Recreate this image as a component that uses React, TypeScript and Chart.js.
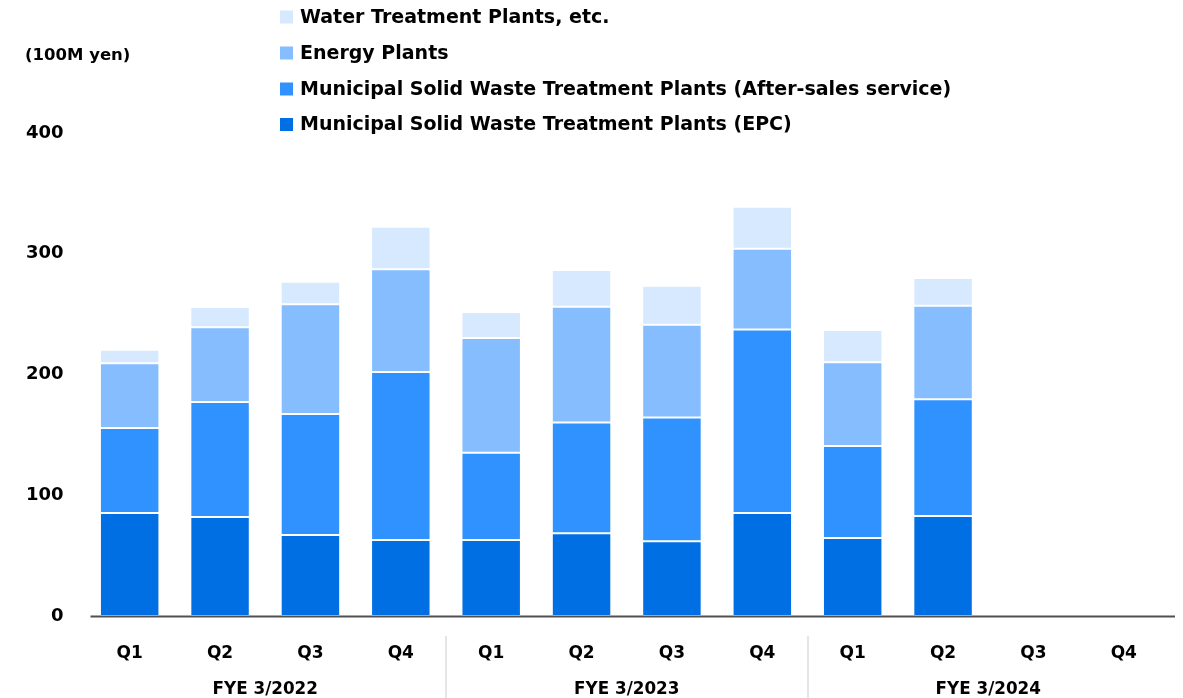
import React, { useEffect, useRef } from "react";
import { Chart, registerables } from "chart.js";

Chart.register(...registerables);

const quarterLabels = ["Q1", "Q2", "Q3", "Q4", "Q1", "Q2", "Q3", "Q4", "Q1", "Q2", "Q3", "Q4"];
const fiscalYears = ["FYE 3/2022", "FYE 3/2023", "FYE 3/2024"];
const yTicks = [0, 100, 200, 300, 400];
const unitLabel = "(100M yen)";

const seriesNames = [
  "Municipal Solid Waste Treatment Plants (EPC)",
  "Municipal Solid Waste Treatment Plants (After-sales service)",
  "Energy Plants",
  "Water Treatment Plants, etc.",
];
const seriesColors = ["#006FE3", "#3092FF", "#85BDFF", "#D6E9FF"];

const epcValues = [85.3, 82.0, 67.0, 63.0, 63.0, 68.5, 62.0, 85.4, 64.6, 82.8, null, null];
const afterSalesValues = [70.4, 95.2, 100.3, 139.0, 72.3, 91.8, 102.3, 151.9, 76.2, 96.6, null, null];
const energyValues = [53.6, 61.9, 90.8, 85.1, 94.9, 95.8, 76.9, 66.9, 69.3, 77.6, null, null];
const waterValues = [11.2, 16.8, 18.8, 35.3, 21.6, 30.4, 32.3, 34.8, 26.8, 22.9, null, null];

const FONT = "'DejaVu Sans', 'Noto Sans', sans-serif";

const decorPlugin = {
  id: "decor",
  afterDatasetsDraw(chart: any) {
    const { ctx, chartArea, scales } = chart;
    const x = scales.x;
    ctx.save();
    // baseline
    ctx.strokeStyle = "#505050";
    ctx.lineWidth = 2;
    ctx.beginPath();
    ctx.moveTo(chartArea.left + 6, chartArea.bottom + 0.5);
    ctx.lineTo(chartArea.right + 6, chartArea.bottom + 0.5);
    ctx.stroke();
    // separators between fiscal years
    ctx.strokeStyle = "#E3E5E8";
    ctx.lineWidth = 2;
    [4, 8].forEach((i) => {
      const xp = Math.round((x.getPixelForValue(i - 1) + x.getPixelForValue(i)) / 2);
      ctx.beginPath();
      ctx.moveTo(xp, 636);
      ctx.lineTo(xp, 698);
      ctx.stroke();
    });
    // fiscal year labels
    ctx.fillStyle = "#000";
    ctx.font = `bold 16.8px ${FONT}`;
    ctx.textAlign = "center";
    ctx.textBaseline = "middle";
    fiscalYears.forEach((fy, g) => {
      const cx = (x.getPixelForValue(g * 4 + 1) + x.getPixelForValue(g * 4 + 2)) / 2;
      ctx.fillText(fy, cx, 690);
    });
    // unit label
    ctx.textAlign = "left";
    ctx.font = `bold 16.5px ${FONT}`;
    ctx.fillText(unitLabel, 25, 56);
    // legend (reverse order)
    const rows = [3, 2, 1, 0];
    const rowY = [17, 53, 89, 124.5];
    ctx.font = `bold 19px ${FONT}`;
    rows.forEach((si, r) => {
      const cy = rowY[r];
      ctx.fillStyle = seriesColors[si];
      ctx.fillRect(280, cy - 6.5, 13, 13);
      ctx.fillStyle = "#000";
      ctx.fillText(seriesNames[si], 300, cy + 1);
    });
    ctx.restore();
  },
};

export default function App() {
  const canvasRef = useRef<HTMLCanvasElement | null>(null);

  useEffect(() => {
    document.body.style.margin = "0";
    const canvas = canvasRef.current;
    if (!canvas) return;
    const values = [epcValues, afterSalesValues, energyValues, waterValues];
    const chart = new Chart(canvas, {
      type: "bar",
      data: {
        labels: quarterLabels,
        datasets: values.map((v, i) => ({
          label: seriesNames[i],
          data: v,
          backgroundColor: seriesColors[i],
          borderColor: "rgba(255,255,255,0.85)",
          borderWidth: 1,
          borderSkipped: false,
          categoryPercentage: 1,
          barPercentage: 0.658,
        })),
      },
      options: {
        animation: false,
        responsive: false,
        maintainAspectRatio: false,
        layout: { padding: { top: 133, left: 0, right: 14, bottom: 0 } },
        plugins: {
          legend: { display: false },
          tooltip: { enabled: false },
          title: { display: false },
        },
        scales: {
          x: {
            stacked: true,
            grid: { display: false, drawTicks: false },
            border: { display: false },
            ticks: {
              color: "#000",
              font: { family: FONT, size: 17, weight: "bold" },
              padding: 27,
              maxRotation: 0,
              autoSkip: false,
            },
            afterFit(axis: any) {
              axis.height = 82;
            },
          },
          y: {
            stacked: true,
            min: 0,
            max: 400,
            afterBuildTicks(axis: any) {
              axis.ticks = yTicks.map((v) => ({ value: v }));
            },
            grid: { display: false, drawTicks: false },
            border: { display: false },
            ticks: {
              color: "#000",
              font: { family: FONT, size: 18, weight: "bold" },
              padding: 21,
            },
            afterFit(axis: any) {
              axis.width = 84.5;
            },
          },
        },
      },
      plugins: [decorPlugin],
    });
    return () => chart.destroy();
  }, []);

  return (
    <div style={{ width: 1183, height: 698, position: "relative" }}>
      <canvas ref={canvasRef} width={1183} height={698} style={{ display: "block" }} />
    </div>
  );
}
